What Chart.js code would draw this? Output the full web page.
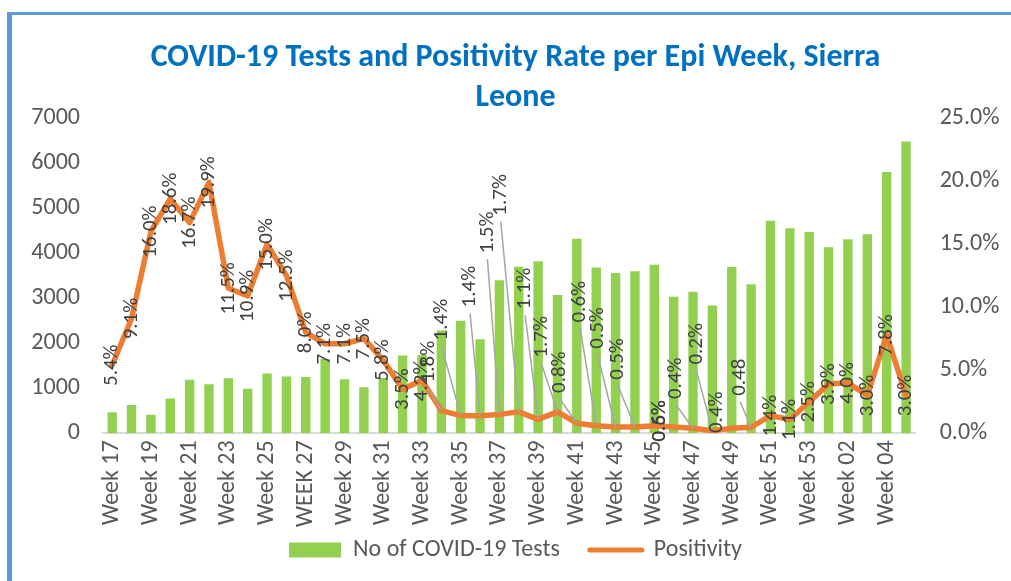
<!DOCTYPE html>
<html>
<head>
<meta charset="utf-8">
<script src="https://cdn.jsdelivr.net/npm/chart.js@4.4.1/dist/chart.umd.min.js"></script>
<style>
  html, body { margin: 0; padding: 0; background: #fff; overflow: hidden; }
  body { width: 1011px; height: 581px; position: relative; }
  #frame { position: absolute; left: 7px; top: 12px; width: 1100px; height: 700px;
           border-left: 5px solid #5B9BD5; border-top: 3px solid #5B9BD5; }
  #wrap { position: absolute; left: 12px; top: 15px; width: 1007px; height: 566px; }
</style>
</head>
<body>
<div id="frame"></div>
<div id="wrap"><canvas id="chart" width="1007" height="566"></canvas></div>
<script>
const weeks = [
  'Week 17', 'Week 18', 'Week 19', 'Week 20', 'Week 21', 'Week 22', 'Week 23', 'Week 24',
  'Week 25', 'Week 26', 'WEEK 27', 'Week 28', 'Week 29', 'Week 30', 'Week 31', 'Week 32',
  'Week 33', 'Week 34', 'Week 35', 'Week 36', 'Week 37', 'Week 38', 'Week 39', 'Week 40',
  'Week 41', 'Week 42', 'Week 43', 'Week 44', 'Week 45', 'Week 46', 'Week 47', 'Week 48',
  'Week 49', 'Week 50', 'Week 51', 'Week 52', 'Week 53', 'Week 01', 'Week 02', 'Week 03',
  'Week 04', 'Week 05'
];
// every other week gets a label on the axis
const xTickLabels = [
  'Week 17', 'Week 19', 'Week 21', 'Week 23', 'Week 25', 'WEEK 27', 'Week 29', 'Week 31',
  'Week 33', 'Week 35', 'Week 37', 'Week 39', 'Week 41', 'Week 43', 'Week 45', 'Week 47',
  'Week 49', 'Week 51', 'Week 53', 'Week 02', 'Week 04'
];
const tests = [
  470, 630, 410, 770, 1190, 1090, 1220, 990, 1330, 1260, 1250, 1650, 1200, 1020, 1230, 1730,
  1740, 2280, 2500, 2090, 3400, 3700, 3820, 3070, 4320, 3680, 3560, 3600, 3740, 3030, 3140, 2840,
  3690, 3310, 4720, 4550, 4470, 4130, 4310, 4420, 5800, 6480
];
const positivity = [
  5.4, 9.1, 16.0, 18.6, 16.7, 19.9, 11.5, 10.9, 15.0, 12.5, 8.0, 7.1, 7.1, 7.5, 5.8, 3.5,
  4.2, 1.8, 1.4, 1.4, 1.5, 1.7, 1.1, 1.7, 0.8, 0.6, 0.5, 0.5, 0.6, 0.5, 0.4, 0.2,
  0.4, 0.48, 1.4, 1.1, 2.5, 3.9, 4.0, 3.0, 7.8, 3.0
];
const testTicks = [0, 1000, 2000, 3000, 4000, 5000, 6000, 7000];
const rateTicks = [0, 5, 10, 15, 20, 25];

// labels that were dragged off their point in the original: [dx, dy, leader line]
const labelShift = {
  17: [-13, -49, true], 18: [-19, -96, true], 19: [-10, -129, true], 20: [-12, -182, true],
  21: [-18, -217, true], 22: [-13, -131, true], 23: [-16, -75, true], 24: [-17, -51, true],
  25: [-16, -124, true], 26: [-18, -99, true], 27: [-17, -68, true], 28: [5, -5, false],
  29: [-14, -6, false], 30: [-17, -50, true], 31: [-16, -87, true], 32: [-15, -16, false],
  33: [-11, -50, true]
};

const FONT = "Calibri, Carlito, 'Open Sans', sans-serif";
Chart.defaults.font.family = FONT;

function labelText(i) {
  const v = positivity[i];
  if (v === 0.48) return '0.48';
  return v.toFixed(1) + '%';
}

const pointLabels = {
  id: 'pointLabels',
  afterDatasetsDraw(chart) {
    const meta = chart.getDatasetMeta(1);
    const c = chart.ctx;
    c.save();
    c.font = '21px ' + FONT;
    meta.data.forEach((pt, i) => {
      const text = labelText(i);
      const s = labelShift[i] || [0, 0, false];
      const lx = pt.x + s[0], ly = pt.y + s[1];
      const half = c.measureText(text).width / 2;
      if (s[2]) {
        c.strokeStyle = '#A6A6A6';
        c.lineWidth = 1.5;
        c.beginPath();
        c.moveTo(lx, ly + half + 6);
        c.lineTo(pt.x, pt.y);
        c.stroke();
      }
      c.save();
      c.translate(lx, ly);
      c.rotate(-Math.PI / 2);
      c.textAlign = 'center';
      c.textBaseline = 'middle';
      c.fillStyle = '#404040';
      c.fillText(text, 0, 0);
      c.restore();
    });
    c.restore();
  }
};

new Chart(document.getElementById('chart'), {
  data: {
    labels: weeks,
    datasets: [
      {
        type: 'bar',
        label: 'No of COVID-19 Tests',
        data: tests,
        backgroundColor: '#92D050',
        yAxisID: 'y',
        order: 2,
        barPercentage: 0.5,
        categoryPercentage: 0.97
      },
      {
        type: 'line',
        label: 'Positivity',
        data: positivity,
        borderColor: '#ED7D31',
        backgroundColor: '#ED7D31',
        borderWidth: 5.5,
        borderJoinStyle: 'round',
        borderCapStyle: 'round',
        pointRadius: 0,
        tension: 0,
        yAxisID: 'y1',
        order: 1
      }
    ]
  },
  options: {
    responsive: false,
    animation: false,
    devicePixelRatio: 1,
    layout: { padding: { top: 0, left: 0, right: 0, bottom: 9 } },
    plugins: {
      title: {
        display: true,
        text: ['COVID-19 Tests and Positivity Rate per Epi Week, Sierra', 'Leone'],
        color: '#0070C0',
        font: { size: 32, weight: 'bold', lineHeight: 1.25 },
        padding: { top: 23, bottom: 0 }
      },
      legend: {
        position: 'bottom',
        labels: {
          usePointStyle: true,
          pointStyleWidth: 52,
          boxHeight: 15,
          padding: 30,
          color: '#595959',
          font: { size: 24 },
          generateLabels: chart => chart.data.datasets.map((ds, i) => ({
            text: ds.label,
            datasetIndex: i,
            fillStyle: ds.backgroundColor,
            strokeStyle: ds.borderColor || ds.backgroundColor,
            lineWidth: ds.type === 'line' ? 5 : 0,
            lineCap: 'round',
            pointStyle: ds.type === 'line' ? 'line' : 'rect',
            fontColor: '#595959',
            hidden: false
          }))
        }
      },
      tooltip: { enabled: false }
    },
    scales: {
      x: {
        grid: { display: false, drawTicks: false },
        border: { color: '#D9D9D9', width: 2 },
        ticks: {
          autoSkip: false,
          maxRotation: 90,
          minRotation: 90,
          padding: 7,
          color: '#595959',
          font: { size: 24 },
          callback: function(value) {
            const l = this.getLabelForValue(value);
            return xTickLabels.includes(l) ? l : '';
          }
        },
        afterFit: s => {
          s.height = 74.7;
          // the rotated week labels run past the axis box, don't clip them
          s._computeLabelArea = () => undefined;
        }
      },
      y: {
        position: 'left',
        min: testTicks[0],
        max: testTicks[testTicks.length - 1],
        grid: { display: false, drawTicks: false },
        border: { display: false },
        ticks: {
          stepSize: testTicks[1] - testTicks[0],
          padding: 22.5,
          color: '#595959',
          font: { size: 24 },
          callback: v => String(v)
        },
        afterFit: s => { s.width = 90.5; }
      },
      y1: {
        position: 'right',
        min: rateTicks[0],
        max: rateTicks[rateTicks.length - 1],
        grid: { display: false, drawTicks: false },
        border: { display: false },
        ticks: {
          stepSize: rateTicks[1] - rateTicks[0],
          padding: 24,
          color: '#595959',
          font: { size: 24 },
          callback: v => v.toFixed(1) + '%'
        },
        afterFit: s => { s.width = 103.3; }
      }
    }
  },
  plugins: [pointLabels]
});
</script>
</body>
</html>
